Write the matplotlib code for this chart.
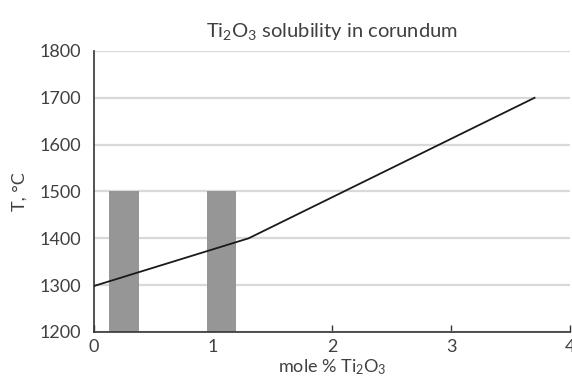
import matplotlib
matplotlib.use('Agg')
import matplotlib.pyplot as plt

plt.rcParams['font.family'] = ['Lato', 'DejaVu Sans']
plt.rcParams['mathtext.default'] = 'regular'

# solubility curve
mole_pct = [0.0, 1.3, 3.7]
temp_c = [1298, 1400, 1700]

# shaded composition ranges
band_start = [0.13, 0.95]
band_end = [0.38, 1.19]
band_top = [1500, 1500]
band_base = 1200

fig = plt.figure(figsize=(5.72, 3.86), dpi=100)
ax = fig.add_axes([0.164, 0.14, 0.833, 0.728])

widths = [e - s for s, e in zip(band_start, band_end)]
heights = [t - band_base for t in band_top]
ax.bar(band_start, heights, width=widths, bottom=band_base, align='edge',
       color='#969696', zorder=2)

ax.plot(mole_pct, temp_c, color='#1a1a1a', lw=1.3, zorder=3)

ax.set_xlim(0, 4)
ax.set_ylim(1200, 1800)
ax.set_xticks([0, 1, 2, 3, 4])
ax.set_yticks(range(1200, 1801, 100))
ax.yaxis.grid(True, color='#d9d9d9', lw=1.6, zorder=0)
ax.set_axisbelow(True)

for side in ['top', 'right']:
    ax.spines[side].set_visible(False)
ax.spines['left'].set_color('#333333')
ax.spines['bottom'].set_color('#333333')
ax.spines['left'].set_linewidth(1.2)
ax.spines['bottom'].set_linewidth(1.2)

ax.tick_params(axis='x', direction='in', length=5, width=1, color='#333333',
               labelsize=13, labelcolor='#404040', pad=5)
ax.tick_params(axis='y', length=0, labelsize=13, labelcolor='#404040', pad=9)

ax.set_title('Ti$_2$O$_3$ solubility in corundum', fontsize=14.5,
             color='#404040', pad=10)
ax.set_xlabel('mole % Ti$_2$O$_3$', fontsize=13, color='#404040', labelpad=2)
ax.set_ylabel('T, °C', fontsize=13, color='#404040', labelpad=9)

fig.savefig('out.png', dpi=100)
